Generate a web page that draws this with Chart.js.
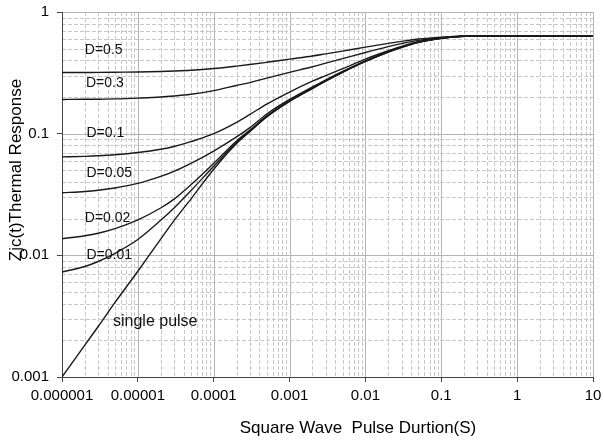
<!DOCTYPE html>
<html>
<head>
<meta charset="utf-8">
<script src="https://cdn.jsdelivr.net/npm/chart.js@4.4.1/dist/chart.umd.min.js"></script>
<style>
  html, body { margin: 0; padding: 0; background: #fff; }
  #wrap { width: 604px; height: 445px; }
</style>
</head>
<body>
<div id="wrap"><canvas id="chart" width="604" height="445"></canvas></div>
<script>
// pulse duration (s)
const pulseTimes = [1e-6, 2e-6, 3e-6, 5e-6, 1e-5, 2e-5, 3e-5, 5e-5, 1e-4, 2e-4, 3e-4, 5e-4, 1e-3, 2e-3, 3e-3, 5e-3, 1e-2, 2e-2, 3e-2, 5e-2, 0.1, 0.2, 0.3, 0.5, 1, 2, 5, 10];

// Zth(t)
const singlePulse = [0.001, 0.00183, 0.0026, 0.0041, 0.0074, 0.0136, 0.0193, 0.029, 0.051, 0.083, 0.104, 0.137, 0.184, 0.235, 0.27, 0.319, 0.392, 0.469, 0.513, 0.564, 0.608, 0.632, 0.635, 0.635, 0.635, 0.635, 0.635, 0.635];
const duty001 = [0.0073, 0.0081, 0.0089, 0.0104, 0.0135, 0.0194, 0.0245, 0.034, 0.054, 0.085, 0.105, 0.138, 0.185, 0.236, 0.271, 0.32, 0.393, 0.469, 0.513, 0.564, 0.608, 0.632, 0.635, 0.635, 0.635, 0.635, 0.635, 0.635];
const duty002 = [0.0137, 0.0145, 0.0152, 0.0166, 0.0196, 0.0245, 0.029, 0.038, 0.057, 0.087, 0.107, 0.14, 0.187, 0.238, 0.273, 0.321, 0.394, 0.47, 0.514, 0.565, 0.609, 0.632, 0.635, 0.635, 0.635, 0.635, 0.635, 0.635];
const duty005 = [0.0327, 0.0335, 0.0343, 0.0358, 0.039, 0.0445, 0.049, 0.057, 0.072, 0.094, 0.112, 0.145, 0.191, 0.242, 0.277, 0.325, 0.397, 0.473, 0.516, 0.566, 0.61, 0.633, 0.635, 0.635, 0.635, 0.635, 0.635, 0.635];
const duty01 = [0.0644, 0.0651, 0.0658, 0.0671, 0.07, 0.0745, 0.0785, 0.086, 0.1, 0.124, 0.144, 0.175, 0.22, 0.27, 0.3, 0.342, 0.41, 0.48, 0.522, 0.57, 0.612, 0.633, 0.635, 0.635, 0.635, 0.635, 0.635, 0.635];
const duty03 = [0.191, 0.192, 0.192, 0.193, 0.196, 0.2, 0.204, 0.211, 0.226, 0.249, 0.263, 0.286, 0.319, 0.355, 0.38, 0.414, 0.465, 0.519, 0.55, 0.585, 0.616, 0.633, 0.635, 0.635, 0.635, 0.635, 0.635, 0.635];
const duty05 = [0.318, 0.318, 0.319, 0.32, 0.321, 0.324, 0.327, 0.332, 0.343, 0.359, 0.37, 0.386, 0.41, 0.435, 0.453, 0.477, 0.514, 0.552, 0.574, 0.6, 0.622, 0.634, 0.635, 0.635, 0.635, 0.635, 0.635, 0.635];

const seriesNames = ['single pulse', 'D=0.01', 'D=0.02', 'D=0.05', 'D=0.1', 'D=0.3', 'D=0.5'];
const seriesValues = [singlePulse, duty001, duty002, duty005, duty01, duty03, duty05];

// axis ticks
const xTickValues = [1e-6, 1e-5, 1e-4, 1e-3, 1e-2, 0.1, 1, 10];
const xTickLabels = ['0.000001', '0.00001', '0.0001', '0.001', '0.01', '0.1', '1', '10'];
const yTickValues = [0.001, 0.01, 0.1, 1];
const yTickLabels = ['0.001', '0.01', '0.1', '1'];
const xTitle = 'Square Wave  Pulse Durtion(S)';
const yTitle = 'Zjc(t)Thermal Response';

// curve labels inside the plot (data coords)
const noteTexts = ['D=0.5', 'D=0.3', 'D=0.1', 'D=0.05', 'D=0.02', 'D=0.01', 'single pulse'];
const noteX = [2.0e-6, 2.07e-6, 2.1e-6, 2.1e-6, 2.0e-6, 2.1e-6, 4.7e-6];
const noteY = [0.487, 0.261, 0.101, 0.0475, 0.0203, 0.0101, 0.00284];

const FONT = '"Liberation Sans", Arial, sans-serif';

// log grid: solid at decades, dashed for 2..9
const logGrid = {
  id: 'logGrid',
  beforeDraw(chart) {
    const { ctx, chartArea: a, scales: { x, y } } = chart;
    ctx.save();
    ctx.fillStyle = '#fff';
    ctx.fillRect(0, 0, chart.width, chart.height);
    ctx.lineWidth = 1;
    const line = (x1, y1, x2, y2, major) => {
      ctx.strokeStyle = major ? '#b4b4b4' : '#c8c8c8';
      ctx.setLineDash(major ? [] : [4, 2]);
      ctx.beginPath();
      ctx.moveTo(x1, y1);
      ctx.lineTo(x2, y2);
      ctx.stroke();
    };
    for (let e = -6; e <= 1; e++) {
      for (let m = 1; m <= 9; m++) {
        const v = m * Math.pow(10, e);
        if (v > 10.0001) break;
        const px = Math.round(x.getPixelForValue(v)) + 0.5;
        line(px, a.top, px, a.bottom, m === 1);
      }
    }
    for (let e = -3; e <= 0; e++) {
      for (let m = 1; m <= 9; m++) {
        const v = m * Math.pow(10, e);
        if (v > 1.0001) break;
        const py = Math.round(y.getPixelForValue(v)) + 0.5;
        line(a.left, py, a.right, py, m === 1);
      }
    }
    ctx.restore();
  }
};

const curveNotes = {
  id: 'curveNotes',
  afterDatasetsDraw(chart) {
    const { ctx, scales: { x, y } } = chart;
    ctx.save();
    ctx.fillStyle = '#111';
    ctx.textAlign = 'left';
    ctx.textBaseline = 'middle';
    noteTexts.forEach((t, i) => {
      ctx.font = (i === noteTexts.length - 1 ? '16px ' : '14px ') + FONT;
      ctx.fillText(t, x.getPixelForValue(noteX[i]), y.getPixelForValue(noteY[i]));
    });
    ctx.restore();
  }
};

// axis titles (the x title sits right of centre in the original)
const axisTitles = {
  id: 'axisTitles',
  afterDraw(chart) {
    const { ctx } = chart;
    ctx.save();
    ctx.fillStyle = '#000';
    ctx.font = '17px ' + FONT;
    ctx.textAlign = 'center';
    ctx.textBaseline = 'middle';
    ctx.fillText(xTitle, 358, 428);
    ctx.translate(16, 170);
    ctx.rotate(-Math.PI / 2);
    ctx.fillText(yTitle, 0, 0);
    ctx.restore();
  }
};

const datasets = seriesNames.map((name, i) => ({
  label: name,
  data: pulseTimes.map((t, j) => ({ x: t, y: seriesValues[i][j] })),
  borderColor: '#1a1a1a',
  borderWidth: 1.4,
  pointRadius: 0,
  fill: false,
  cubicInterpolationMode: 'monotone'
}));

new Chart(document.getElementById('chart').getContext('2d'), {
  type: 'line',
  data: { datasets },
  plugins: [logGrid, curveNotes, axisTitles],
  options: {
    responsive: false,
    devicePixelRatio: 1,
    animation: false,
    layout: { padding: { top: 12, right: 11, left: 0, bottom: 0 } },
    plugins: { legend: { display: false }, tooltip: { enabled: false } },
    scales: {
      x: {
        type: 'logarithmic',
        min: 1e-6,
        max: 10,
        afterBuildTicks: s => { s.ticks = xTickValues.map(v => ({ value: v })); },
        afterFit: s => { s.height = 68; s.paddingLeft = 0; s.paddingRight = 0; },
        ticks: {
          autoSkip: false,
          maxRotation: 0,
          padding: 5,
          color: '#000',
          font: { family: FONT, size: 15 },
          callback: (v, i) => xTickLabels[i]
        },
        grid: { drawOnChartArea: false, drawTicks: true, tickLength: 5, color: '#444' },
        border: { color: '#444', width: 1 }
      },
      y: {
        type: 'logarithmic',
        min: 0.001,
        max: 1,
        afterBuildTicks: s => { s.ticks = yTickValues.map(v => ({ value: v })); },
        afterFit: s => { s.width = 62; s.paddingTop = 0; s.paddingBottom = 0; },
        ticks: {
          autoSkip: false,
          padding: 8,
          color: '#000',
          font: { family: FONT, size: 15 },
          callback: (v, i) => yTickLabels[i]
        },
        grid: { drawOnChartArea: false, drawTicks: true, tickLength: 5, color: '#444' },
        border: { color: '#444', width: 1 }
      }
    }
  }
});
</script>
</body>
</html>
